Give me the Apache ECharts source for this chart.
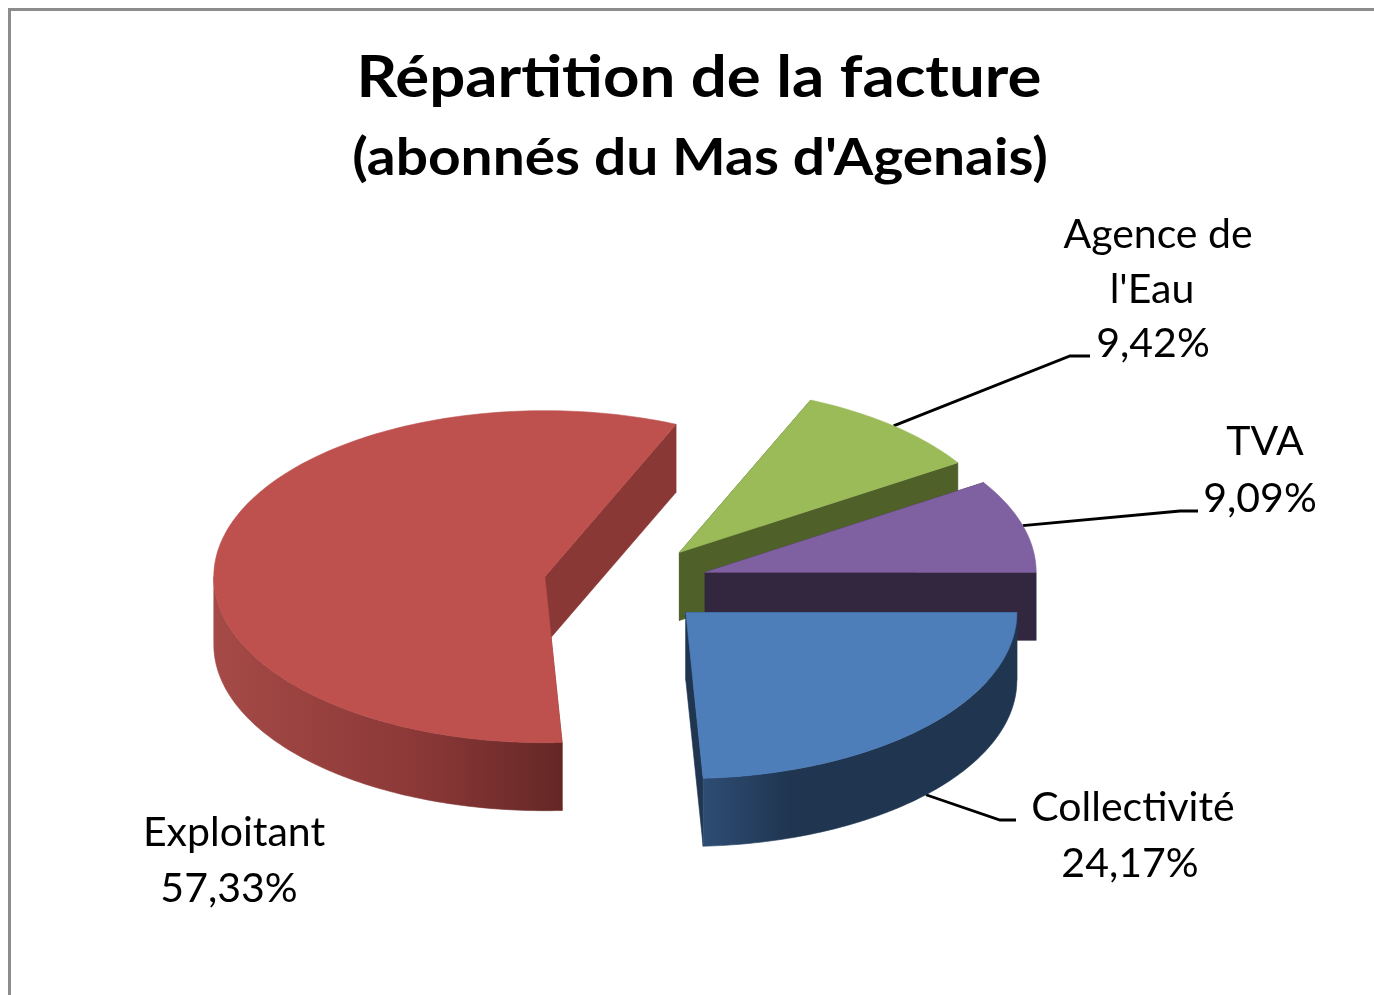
<!DOCTYPE html>
<html>
<head>
<meta charset="utf-8">
<style>html,body{margin:0;padding:0;background:#fff}#c{width:1374px;height:995px}</style>
<script src="https://cdn.jsdelivr.net/npm/echarts@6/dist/echarts.min.js"></script>
</head>
<body>
<div id="c"></div>
<script>
// Data, clockwise from the first slice
const categories = ['Exploitant', "Agence de l'Eau", 'TVA', 'Collectivité'];
const values = [57.33, 9.42, 9.09, 24.17];
const valueLabels = ['57,33%', '9,42%', '9,09%', '24,17%'];
const titleLine1 = 'Répartition de la facture';
const titleLine2 = "(abonnés du Mas d'Agenais)";

// Styles
const topColors = ['#BE504D', '#9BBB59', '#7F60A0', '#4E7EBA'];
const faceColors = ['#8A3836', '#4F6029', '#332740', '#1F3550'];
const wallGradients = [
  [[0, '#A54A47'], [0.6, '#8A3837'], [1, '#642725']],
  [[0, '#4F6029'], [1, '#4F6029']],
  [[0, '#332740'], [1, '#332740']],
  [[0, '#2E4D74'], [0.28, '#1F3550'], [1, '#1F3550']]
];

// Pie projection
const FONT = 'Lato, "Open Sans", sans-serif';
const CX = 626, CY = 584, RX = 331, RY = 166, DEPTH = 68, EXPLODE = 82.5, START_DEG = 177;

// Label layout per category: text-line centres and leader elbow
const labelLayout = [
  { lines: [[234, 833], [229, 889]], leader: null },
  { lines: [[1158, 235], [1152, 290], [1153, 344]], leader: [[1070, 356], [1090, 356]], wrap: ['Agence de', "l'Eau"] },
  { lines: [[1265, 442], [1260, 499]], leader: [[1180, 511], [1198, 511]] },
  { lines: [[1133, 808], [1130, 864]], leader: [[1000, 820], [1016, 820]], onWall: true }
];

const total = values.reduce((a, b) => a + b, 0);
const rad = d => d * Math.PI / 180;

function sliceAngles(i) {
  let a = START_DEG;
  for (let k = 0; k < i; k++) a += values[k] / total * 360;
  const turn = a >= 360 ? 360 : 0;
  return [a - turn, a - turn + values[i] / total * 360];
}
function renderSlice(params, api) {
  const i = params.dataIndex;
  const [a0, a1] = sliceAngles(i);
  const mid = (a0 + a1) / 2;
  const ox = CX + EXPLODE * Math.sin(rad(mid));
  const oy = CY - EXPLODE * Math.cos(rad(mid)) * RY / RX;
  const rim = (a, dz) => [ox + RX * Math.sin(rad(a)), oy - RY * Math.cos(rad(a)) + (dz || 0)];
  const arc = (s, e, dz) => {
    const n = Math.max(2, Math.ceil(Math.abs(e - s)));
    const pts = [];
    for (let k = 0; k <= n; k++) pts.push(rim(s + (e - s) * k / n, dz));
    return pts;
  };
  const children = [];
  const poly = (points, fill) => children.push({
    type: 'polygon', shape: { points }, style: { fill, stroke: fill, lineWidth: 0.6 }
  });
  const apex = [ox, oy], apexB = [ox, oy + DEPTH];
  // cut faces
  poly([apex, rim(a0), rim(a0, DEPTH), apexB], faceColors[i]);
  poly([apex, rim(a1), rim(a1, DEPTH), apexB], faceColors[i]);
  // outer wall: only the near half of the rim is seen
  const w0 = Math.max(a0, 90), w1 = Math.min(a1, 270);
  if (w1 > w0) {
    poly(arc(w0, w1, 0).concat(arc(w1, w0, DEPTH)),
      new echarts.graphic.LinearGradient(i === 0 ? 1 : 0, 0, i === 0 ? 0 : 1, 0,
        wallGradients[i].map(s => ({ offset: i === 0 ? 1 - s[0] : s[0], color: s[1] }))
          .sort((p, q) => p.offset - q.offset)));
  }
  // top
  poly([apex].concat(arc(a0, a1, 0)), topColors[i]);

  // leader line from the slice rim to the label
  const lay = labelLayout[i];
  if (lay.leader) {
    children.push({
      type: 'polyline',
      shape: { points: [rim(mid, lay.onWall ? DEPTH : 0)].concat(lay.leader) },
      style: { stroke: '#000', lineWidth: 2.8, fill: null },
      z2: -1
    });
  }
  // label
  const textLines = (lay.wrap || [categories[i]]).concat(valueLabels[i]);
  textLines.forEach((t, k) => children.push({
    type: 'text', z2: 6,
    style: {
      text: t, x: lay.lines[k][0], y: lay.lines[k][1],
      align: 'center', verticalAlign: 'middle',
      fill: '#000', font: '41px ' + FONT
    }
  }));
  return { type: 'group', children };
}

const chart = echarts.init(document.getElementById('c'), null, { renderer: 'canvas' });
chart.setOption({
  animation: false,
  backgroundColor: '#fff',
  graphic: [
    { type: 'polyline', silent: true,
      shape: { points: [[9.5, 995], [9.5, 9.5], [1374, 9.5]] },
      style: { stroke: '#8C8C8C', lineWidth: 3, fill: null } },
    { type: 'text', silent: true, x: 699, y: 79, scaleX: 1.115,
      style: { text: titleLine1, align: 'center', verticalAlign: 'middle', fill: '#000',
               font: 'bold 57px ' + FONT } },
    { type: 'text', silent: true, x: 700, y: 159, scaleX: 1.115,
      style: { text: titleLine2, align: 'center', verticalAlign: 'middle', fill: '#000',
               font: 'bold 51px ' + FONT } }
  ],
  series: [{
    type: 'custom',
    coordinateSystem: 'none',
    name: 'Répartition',
    data: values.map((v, i) => ({ name: categories[i], value: v })),
    renderItem: renderSlice
  }]
});
</script>
</body>
</html>
